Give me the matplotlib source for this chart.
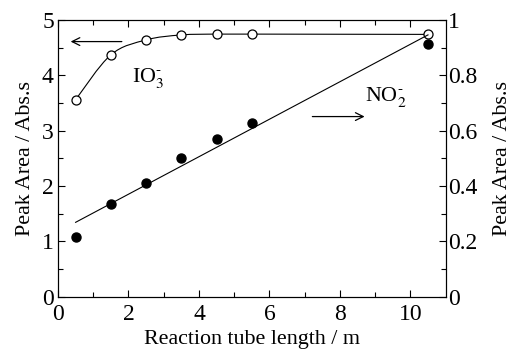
import numpy as np
import matplotlib
matplotlib.use("Agg")
import matplotlib.pyplot as plt
from matplotlib.path import Path
from matplotlib.patches import PathPatch

plt.rcParams["font.family"] = ["Liberation Serif", "DejaVu Serif"]
plt.rcParams["mathtext.fontset"] = "stix"

# data
length = [0.5, 1.5, 2.5, 3.5, 4.5, 5.5, 10.5]
io3_area = [3.56, 4.37, 4.64, 4.73, 4.745, 4.745, 4.74]
no2_area = [0.217, 0.334, 0.412, 0.50, 0.569, 0.629, 0.914]

fig = plt.figure(figsize=(5.14, 3.5), dpi=100)
ax = fig.add_axes([58 / 514, 1 - 296.7 / 350, (445.6 - 58) / 514, (296.7 - 20) / 350])
ax2 = ax.twinx()

# IO3- : smooth curve through the points (Catmull-Rom as cubic Bezier)
x = np.array(length)
y = np.array(io3_area)
verts = [(x[0], y[0])]
codes = [Path.MOVETO]
for i in range(len(x) - 1):
    p0 = (x[i - 1], y[i - 1]) if i > 0 else (x[i], y[i])
    p3 = (x[i + 2], y[i + 2]) if i + 2 < len(x) else (x[i + 1], y[i + 1])
    if i >= 4:
        verts += [(x[i + 1], y[i + 1])]
        codes += [Path.LINETO]
        continue
    c1 = (x[i] + (x[i + 1] - p0[0]) / 6, y[i] + (y[i + 1] - p0[1]) / 6)
    c2 = (x[i + 1] - (p3[0] - x[i]) / 6, y[i + 1] - (p3[1] - y[i]) / 6)
    verts += [c1, c2, (x[i + 1], y[i + 1])]
    codes += [Path.CURVE4] * 3
ax.add_patch(PathPatch(Path(verts, codes), fill=False, color="black", lw=0.8))
ax.plot(length, io3_area, "o", mfc="white", mec="black", ms=6.5, mew=0.9, zorder=5)

# NO2- : points and least squares line
ax2.plot(length, no2_area, "o", color="black", ms=6.5, zorder=5)
k, b = np.polyfit(length, no2_area, 1)
ax2.plot([length[0], length[-1]], [k * length[0] + b, k * length[-1] + b], color="black", lw=0.8)

ax.set_xlim(0, 11)
ax.set_ylim(0, 5)
ax2.set_ylim(0, 1)
ax.set_xticks([0, 2, 4, 6, 8, 10])
ax.set_xticks(np.arange(0, 11, 1), minor=True)
ax.set_yticks([0, 1, 2, 3, 4, 5])
ax.set_yticks(np.arange(0, 5.01, 0.5), minor=True)
ax2.set_yticks([0, 0.2, 0.4, 0.6, 0.8, 1])
ax2.set_yticklabels(["0", "0.2", "0.4", "0.6", "0.8", "1"])
ax2.set_yticks(np.arange(0, 1.001, 0.1), minor=True)

ax.tick_params(which="both", direction="in", top=True, labelsize=17)
ax.tick_params(axis="x", pad=5)
ax.tick_params(axis="y", pad=3)
ax.tick_params(which="major", length=5, width=0.8)
ax.tick_params(which="minor", length=3.5, width=0.8)
ax2.tick_params(which="both", direction="in", labelsize=17, pad=2)
ax2.tick_params(which="major", length=5, width=0.8)
ax2.tick_params(which="minor", length=3.5, width=0.8)

ax.set_xlabel("Reaction tube length / m", fontsize=15.8, labelpad=4)
ax.set_ylabel("Peak Area / Abs.s", fontsize=15.8, labelpad=5)
ax2.set_ylabel("Peak Area / Abs.s", fontsize=15.8, labelpad=11)

ax.text(2.55, 3.95, r"IO$_3^{\text{-}}$", fontsize=15.8, ha="center", va="center")
ax.text(9.29, 3.61, r"NO$_2^{\text{-}}$", fontsize=15.8, ha="center", va="center")
ax.annotate("", xy=(0.28, 4.61), xytext=(1.89, 4.61),
            arrowprops=dict(arrowstyle="->", lw=0.9, color="black", mutation_scale=14))
ax.annotate("", xy=(8.78, 3.255), xytext=(7.14, 3.255),
            arrowprops=dict(arrowstyle="->", lw=0.9, color="black", mutation_scale=14))

fig.savefig("out.png", dpi=100)
